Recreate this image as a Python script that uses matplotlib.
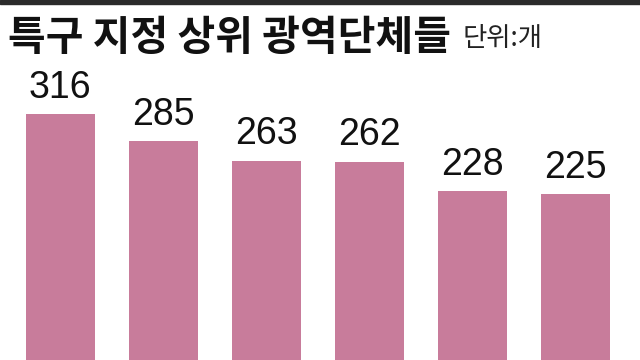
import matplotlib.pyplot as plt
import numpy as np

# 특구 지정 상위 광역단체들 (단위: 개)
values = [316, 285, 263, 262, 228, 225]
labels = [str(v) for v in values]

title = "특구 지정 상위 광역단체들"
unit = "단위:개"

bar_color = "#c87c9b"

fig = plt.figure(figsize=(6.4, 3.6), dpi=100)
ax = fig.add_axes([0, 0, 1, 1])

x = np.arange(len(values))
bars = ax.bar(x, values, width=0.67, color=bar_color)

# 숫자 라벨
ax.bar_label(bars, labels=labels, padding=6, fontsize=27,
             family=["Liberation Sans", "DejaVu Sans"], color="#111111")

# 아래쪽이 잘린 형태
ax.set_xlim(-0.583, 5.631)
ax.set_ylim(36, 446)
ax.axis("off")

# 위쪽 진한 띠
fig.patches.append(plt.Rectangle((0, 0.988), 1, 0.012, transform=fig.transFigure,
                                 color="#2b2b2b", zorder=5))

fig.text(0.012, 0.895, title, fontsize=29.5, fontweight="bold", va="center",
         family=["Noto Sans CJK KR", "DejaVu Sans"], color="#111111")
fig.text(0.723, 0.892, unit, fontsize=19, va="center",
         family=["Noto Sans CJK KR", "DejaVu Sans"], color="#222222")

fig.savefig("out.png", dpi=100)
